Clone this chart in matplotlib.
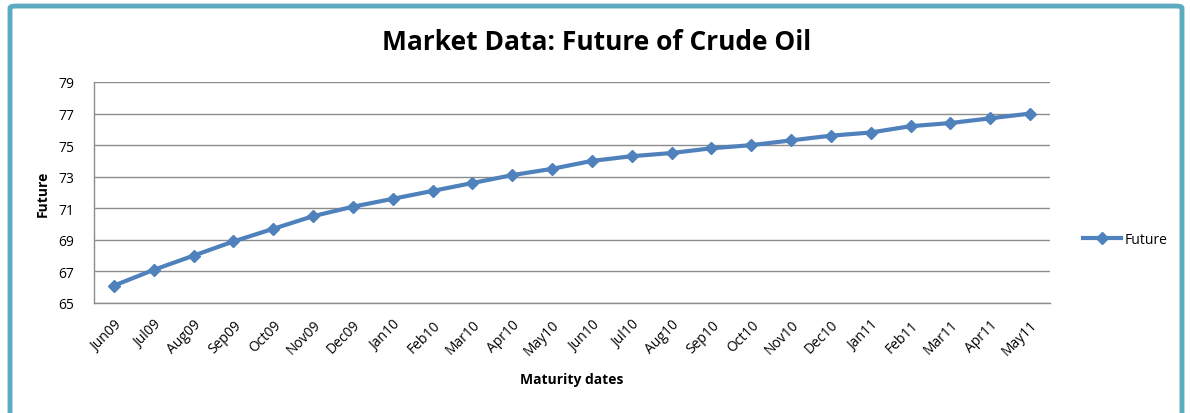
import matplotlib

matplotlib.use("Agg")
import matplotlib.pyplot as plt
from matplotlib.patches import FancyBboxPatch

# data
months = ["Jun09", "Jul09", "Aug09", "Sep09", "Oct09", "Nov09", "Dec09", "Jan10",
          "Feb10", "Mar10", "Apr10", "May10", "Jun10", "Jul10", "Aug10", "Sep10",
          "Oct10", "Nov10", "Dec10", "Jan11", "Feb11", "Mar11", "Apr11", "May11"]
future = [66.1, 67.1, 68.0, 68.9, 69.7, 70.5, 71.1, 71.6,
          72.1, 72.6, 73.1, 73.5, 74.0, 74.3, 74.5, 74.8,
          75.0, 75.3, 75.6, 75.8, 76.2, 76.4, 76.7, 77.0]
y_ticks = [65, 67, 69, 71, 73, 75, 77, 79]

LINE = "#4F81BD"
GRID = "#8C8C8C"

plt.rcParams["font.family"] = ["Open Sans", "DejaVu Sans"]

fig = plt.figure(figsize=(11.9, 4.14), dpi=100)
fig.patch.set_facecolor("white")

# teal frame around the chart
frame = FancyBboxPatch((10 / 1190, -0.01), 1172 / 1190, 0.993,
                       boxstyle="round,pad=0,rounding_size=0.005",
                       transform=fig.transFigure, facecolor="none",
                       edgecolor="#5AAAC0", linewidth=3.5, zorder=10)
fig.patches.append(frame)

ax = fig.add_axes([94 / 1190, 1 - 304 / 414, 956 / 1190, 221 / 414])
ax.set_facecolor("none")
x = list(range(len(months)))
line, = ax.plot(x, future, color=LINE, linewidth=3, marker="D", markersize=6.5,
                label="Future", zorder=3)

ax.set_xlim(-0.5, len(months) - 0.5)
ax.set_ylim(65, 79)
ax.set_yticks(y_ticks)
ax.set_xticks(x)
ax.set_xticklabels(months, rotation=45, ha="right", rotation_mode="anchor", fontsize=10)
ax.tick_params(axis="y", labelsize=10, length=0, pad=14)
ax.tick_params(axis="x", length=0, pad=10)
ax.grid(axis="y", color=GRID, linewidth=1)
for side in ["top", "right"]:
    ax.spines[side].set_visible(False)
for side in ["left", "bottom"]:
    ax.spines[side].set_color(GRID)
    ax.spines[side].set_linewidth(1)

ax.set_ylabel("Future", fontsize=10, fontweight="bold", labelpad=6)
ax.set_xlabel("Maturity dates", fontsize=10, fontweight="bold", labelpad=10)

fig.text(597 / 1190, 1 - 42 / 414, "Market Data: Future of Crude Oil",
         ha="center", va="center", fontsize=19, fontweight="bold")

fig.legend(handles=[line], loc="center left", bbox_to_anchor=(1070 / 1190, 1 - 240 / 414),
           frameon=False, fontsize=10, handlelength=2.8, handletextpad=0.2)

fig.savefig("out.png", dpi=100)
